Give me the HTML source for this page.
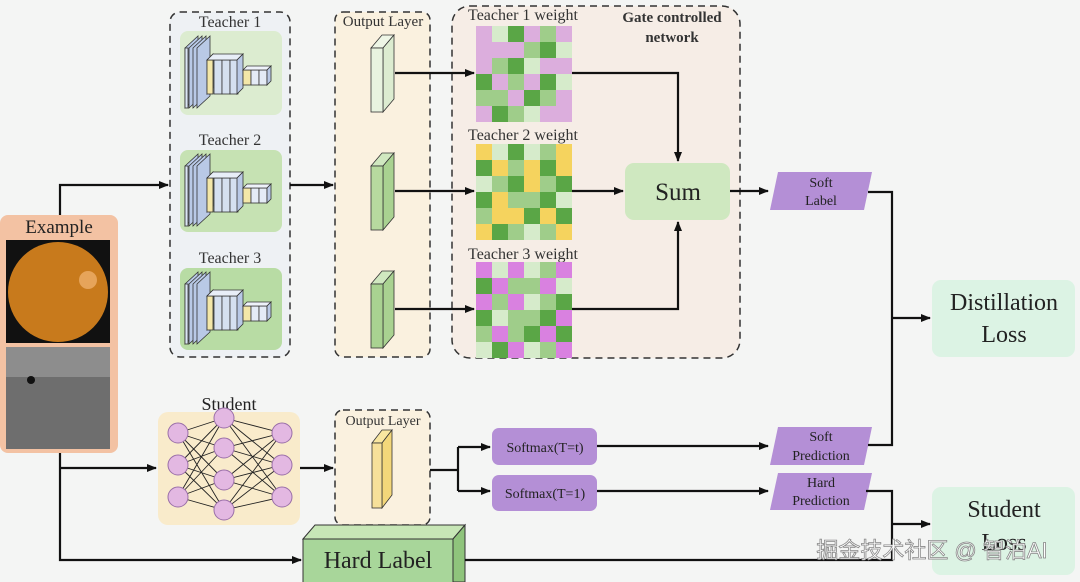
<!DOCTYPE html>
<html><head><meta charset="utf-8"><style>
html,body{margin:0;padding:0;background:#f4f5f4;}
svg{display:block;font-family:"Liberation Serif",serif;}
.P{fill:#dcaedd}.L{fill:#d6ebcb}.G{fill:#5aa646}.M{fill:#9fcd8a}.Y{fill:#f5d35e}.K{fill:#d981e0}
</style></head><body>
<svg width="1080" height="582" viewBox="0 0 1080 582" xmlns="http://www.w3.org/2000/svg">
<defs>
<marker id="a" markerWidth="10" markerHeight="8" refX="9" refY="4" orient="auto" markerUnits="userSpaceOnUse"><path d="M0,0 L10,4 L0,8 z" fill="#111"/></marker>
<g id="cnn">
 <g stroke="#333" stroke-width="0.8">
  <polygon points="5,18 18,6 18,66 5,78" fill="#b9c9e6"/>
  <polygon points="9,18 22,6 22,66 9,78" fill="#b9c9e6"/>
  <polygon points="13,18 26,6 26,66 13,78" fill="#b9c9e6"/>
  <polygon points="17,18 30,6 30,66 17,78" fill="#b9c9e6"/>
  <rect x="5" y="18" width="3" height="60" fill="#dbe6f5"/>
  <polygon points="27,30 33,24 33,58 27,64" fill="#f3e7a8"/>
  <rect x="27" y="30" width="6" height="34" fill="#f3e7a8"/>
  <rect x="34" y="30" width="8" height="34" fill="#d5e0f0"/>
  <rect x="42" y="30" width="8" height="34" fill="#d5e0f0"/>
  <rect x="50" y="30" width="8" height="34" fill="#d5e0f0"/>
  <polygon points="27,30 33,24 63,24 57,30" fill="#e8eef8"/>
  <polygon points="57,30 63,24 63,58 57,64" fill="#b9c9e6"/>
  <rect x="63" y="40" width="8" height="15" fill="#f3e7a8"/>
  <rect x="71" y="40" width="8" height="15" fill="#e4ebf6"/>
  <rect x="79" y="40" width="8" height="15" fill="#e4ebf6"/>
  <polygon points="63,40 67,36 91,36 87,40" fill="#eef2fa"/>
  <polygon points="87,40 91,36 91,51 87,55" fill="#b9c9e6"/>
 </g>
</g>
</defs>

<!-- Example -->
<rect x="0" y="215" width="118" height="238" rx="8" fill="#f3c2a3"/>
<text x="59" y="233" font-size="19" text-anchor="middle" fill="#222">Example</text>
<rect x="6" y="240" width="104" height="103" fill="#111"/>
<circle cx="58" cy="292" r="50" fill="#c87a1c"/>
<circle cx="88" cy="280" r="9" fill="#e6a45a"/>
<rect x="6" y="347" width="104" height="102" fill="#6e6e6e"/>
<rect x="6" y="347" width="104" height="30" fill="#9a9a9a" opacity="0.7"/>
<circle cx="31" cy="380" r="4" fill="#111"/>

<!-- Teachers -->
<rect x="170" y="12" width="120" height="345" rx="10" fill="#eef1f4" stroke="#333" stroke-width="1.5" stroke-dasharray="7,5"/>
<text x="230" y="27" font-size="16" text-anchor="middle" fill="#333">Teacher 1</text>
<rect x="180" y="31" width="102" height="84" rx="8" fill="#dcecd0"/>
<text x="230" y="145" font-size="16" text-anchor="middle" fill="#333">Teacher 2</text>
<rect x="180" y="150" width="102" height="82" rx="8" fill="#c6e2b3"/>
<text x="230" y="263" font-size="16" text-anchor="middle" fill="#333">Teacher 3</text>
<rect x="180" y="268" width="102" height="82" rx="8" fill="#b8dca4"/>
<use href="#cnn" x="180" y="30"/>
<use href="#cnn" x="180" y="148"/>
<use href="#cnn" x="180" y="266"/>

<!-- Output layer teachers -->
<rect x="335" y="12" width="95" height="345" rx="8" fill="#faf1df" stroke="#333" stroke-width="1.5" stroke-dasharray="7,5"/>
<text x="383" y="26" font-size="15" text-anchor="middle" fill="#333">Output Layer</text>
<g stroke="#333" stroke-width="0.8">
<polygon points="371,48 382,35 394,35 383,48" fill="#eef6e6"/><polygon points="383,48 394,35 394,99 383,112" fill="#dcecd0"/><rect x="371" y="48" width="12" height="64" fill="#e8f3df"/>
<polygon points="371,166 382,153 394,153 383,166" fill="#d0e8c0"/><polygon points="383,166 394,153 394,217 383,230" fill="#a9d291"/><rect x="371" y="166" width="12" height="64" fill="#b7da9f"/>
<polygon points="371,284 382,271 394,271 383,284" fill="#d0e8c0"/><polygon points="383,284 394,271 394,335 383,348" fill="#a9d291"/><rect x="371" y="284" width="12" height="64" fill="#a9d291"/>
</g>

<!-- Gate -->
<rect x="452" y="6" width="288" height="352" rx="18" fill="#f6ede6" stroke="#333" stroke-width="1.5" stroke-dasharray="7,5"/>
<text x="523" y="20" font-size="16" text-anchor="middle" fill="#333">Teacher 1 weight</text>
<text x="523" y="140" font-size="16" text-anchor="middle" fill="#333">Teacher 2 weight</text>
<text x="523" y="259" font-size="16" text-anchor="middle" fill="#333">Teacher 3 weight</text>
<text x="672" y="22" font-size="15" font-weight="bold" text-anchor="middle" fill="#333">Gate controlled</text>
<text x="672" y="42" font-size="15" font-weight="bold" text-anchor="middle" fill="#333">network</text>

<g>
<!-- grid1 -->
<rect class="P" x="476" y="26" width="16" height="16"/><rect class="L" x="492" y="26" width="16" height="16"/><rect class="G" x="508" y="26" width="16" height="16"/><rect class="P" x="524" y="26" width="16" height="16"/><rect class="M" x="540" y="26" width="16" height="16"/><rect class="P" x="556" y="26" width="16" height="16"/>
<rect class="P" x="476" y="42" width="16" height="16"/><rect class="P" x="492" y="42" width="16" height="16"/><rect class="P" x="508" y="42" width="16" height="16"/><rect class="M" x="524" y="42" width="16" height="16"/><rect class="G" x="540" y="42" width="16" height="16"/><rect class="L" x="556" y="42" width="16" height="16"/>
<rect class="P" x="476" y="58" width="16" height="16"/><rect class="M" x="492" y="58" width="16" height="16"/><rect class="G" x="508" y="58" width="16" height="16"/><rect class="L" x="524" y="58" width="16" height="16"/><rect class="P" x="540" y="58" width="16" height="16"/><rect class="P" x="556" y="58" width="16" height="16"/>
<rect class="G" x="476" y="74" width="16" height="16"/><rect class="P" x="492" y="74" width="16" height="16"/><rect class="M" x="508" y="74" width="16" height="16"/><rect class="P" x="524" y="74" width="16" height="16"/><rect class="G" x="540" y="74" width="16" height="16"/><rect class="L" x="556" y="74" width="16" height="16"/>
<rect class="M" x="476" y="90" width="16" height="16"/><rect class="M" x="492" y="90" width="16" height="16"/><rect class="P" x="508" y="90" width="16" height="16"/><rect class="G" x="524" y="90" width="16" height="16"/><rect class="M" x="540" y="90" width="16" height="16"/><rect class="P" x="556" y="90" width="16" height="16"/>
<rect class="P" x="476" y="106" width="16" height="16"/><rect class="G" x="492" y="106" width="16" height="16"/><rect class="M" x="508" y="106" width="16" height="16"/><rect class="L" x="524" y="106" width="16" height="16"/><rect class="P" x="540" y="106" width="16" height="16"/><rect class="P" x="556" y="106" width="16" height="16"/>
<!-- grid2 -->
<rect class="Y" x="476" y="144" width="16" height="16"/><rect class="L" x="492" y="144" width="16" height="16"/><rect class="G" x="508" y="144" width="16" height="16"/><rect class="L" x="524" y="144" width="16" height="16"/><rect class="M" x="540" y="144" width="16" height="16"/><rect class="Y" x="556" y="144" width="16" height="16"/>
<rect class="G" x="476" y="160" width="16" height="16"/><rect class="Y" x="492" y="160" width="16" height="16"/><rect class="M" x="508" y="160" width="16" height="16"/><rect class="Y" x="524" y="160" width="16" height="16"/><rect class="G" x="540" y="160" width="16" height="16"/><rect class="Y" x="556" y="160" width="16" height="16"/>
<rect class="L" x="476" y="176" width="16" height="16"/><rect class="M" x="492" y="176" width="16" height="16"/><rect class="G" x="508" y="176" width="16" height="16"/><rect class="Y" x="524" y="176" width="16" height="16"/><rect class="M" x="540" y="176" width="16" height="16"/><rect class="G" x="556" y="176" width="16" height="16"/>
<rect class="G" x="476" y="192" width="16" height="16"/><rect class="Y" x="492" y="192" width="16" height="16"/><rect class="M" x="508" y="192" width="16" height="16"/><rect class="M" x="524" y="192" width="16" height="16"/><rect class="G" x="540" y="192" width="16" height="16"/><rect class="L" x="556" y="192" width="16" height="16"/>
<rect class="M" x="476" y="208" width="16" height="16"/><rect class="Y" x="492" y="208" width="16" height="16"/><rect class="Y" x="508" y="208" width="16" height="16"/><rect class="G" x="524" y="208" width="16" height="16"/><rect class="Y" x="540" y="208" width="16" height="16"/><rect class="G" x="556" y="208" width="16" height="16"/>
<rect class="Y" x="476" y="224" width="16" height="16"/><rect class="G" x="492" y="224" width="16" height="16"/><rect class="M" x="508" y="224" width="16" height="16"/><rect class="L" x="524" y="224" width="16" height="16"/><rect class="M" x="540" y="224" width="16" height="16"/><rect class="Y" x="556" y="224" width="16" height="16"/>
<!-- grid3 -->
<rect class="K" x="476" y="262" width="16" height="16"/><rect class="L" x="492" y="262" width="16" height="16"/><rect class="K" x="508" y="262" width="16" height="16"/><rect class="L" x="524" y="262" width="16" height="16"/><rect class="M" x="540" y="262" width="16" height="16"/><rect class="K" x="556" y="262" width="16" height="16"/>
<rect class="G" x="476" y="278" width="16" height="16"/><rect class="K" x="492" y="278" width="16" height="16"/><rect class="M" x="508" y="278" width="16" height="16"/><rect class="M" x="524" y="278" width="16" height="16"/><rect class="K" x="540" y="278" width="16" height="16"/><rect class="L" x="556" y="278" width="16" height="16"/>
<rect class="K" x="476" y="294" width="16" height="16"/><rect class="M" x="492" y="294" width="16" height="16"/><rect class="K" x="508" y="294" width="16" height="16"/><rect class="L" x="524" y="294" width="16" height="16"/><rect class="M" x="540" y="294" width="16" height="16"/><rect class="G" x="556" y="294" width="16" height="16"/>
<rect class="G" x="476" y="310" width="16" height="16"/><rect class="L" x="492" y="310" width="16" height="16"/><rect class="M" x="508" y="310" width="16" height="16"/><rect class="M" x="524" y="310" width="16" height="16"/><rect class="G" x="540" y="310" width="16" height="16"/><rect class="K" x="556" y="310" width="16" height="16"/>
<rect class="M" x="476" y="326" width="16" height="16"/><rect class="K" x="492" y="326" width="16" height="16"/><rect class="M" x="508" y="326" width="16" height="16"/><rect class="G" x="524" y="326" width="16" height="16"/><rect class="K" x="540" y="326" width="16" height="16"/><rect class="G" x="556" y="326" width="16" height="16"/>
<rect class="L" x="476" y="342" width="16" height="16"/><rect class="G" x="492" y="342" width="16" height="16"/><rect class="K" x="508" y="342" width="16" height="16"/><rect class="L" x="524" y="342" width="16" height="16"/><rect class="M" x="540" y="342" width="16" height="16"/><rect class="K" x="556" y="342" width="16" height="16"/>
</g>

<rect x="625" y="163" width="105" height="57" rx="9" fill="#cfe8c0"/>
<text x="678" y="200" font-size="25" text-anchor="middle" fill="#222">Sum</text>

<polygon points="778,172 872,172 864,210 770,210" fill="#b48fd6"/>
<text x="821" y="187" font-size="14" text-anchor="middle" fill="#222">Soft</text>
<text x="821" y="205" font-size="14" text-anchor="middle" fill="#222">Label</text>

<rect x="932" y="280" width="143" height="77" rx="9" fill="#dcf3e4"/>
<text x="1004" y="310" font-size="24" text-anchor="middle" fill="#222">Distillation</text>
<text x="1004" y="342" font-size="24" text-anchor="middle" fill="#222">Loss</text>
<rect x="932" y="487" width="143" height="88" rx="9" fill="#dcf3e4"/>
<text x="1004" y="517" font-size="24" text-anchor="middle" fill="#222">Student</text>
<text x="1004" y="550" font-size="24" text-anchor="middle" fill="#222">Loss</text>

<!-- Student -->
<text x="229" y="410" font-size="18" text-anchor="middle" fill="#222">Student</text>
<rect x="158" y="412" width="142" height="113" rx="10" fill="#f9ebcb"/>
<g stroke="#222" stroke-width="0.9">
<path d="M178,433 L224,418 M178,433 L224,448 M178,433 L224,480 M178,433 L224,510 M178,465 L224,418 M178,465 L224,448 M178,465 L224,480 M178,465 L224,510 M178,497 L224,418 M178,497 L224,448 M178,497 L224,480 M178,497 L224,510 M282,433 L224,418 M282,433 L224,448 M282,433 L224,480 M282,433 L224,510 M282,465 L224,418 M282,465 L224,448 M282,465 L224,480 M282,465 L224,510 M282,497 L224,418 M282,497 L224,448 M282,497 L224,480 M282,497 L224,510"/>
</g>
<g fill="#e3b8e2" stroke="#9a6fa8" stroke-width="1">
<circle cx="178" cy="433" r="10"/><circle cx="178" cy="465" r="10"/><circle cx="178" cy="497" r="10"/>
<circle cx="224" cy="418" r="10"/><circle cx="224" cy="448" r="10"/><circle cx="224" cy="480" r="10"/><circle cx="224" cy="510" r="10"/>
<circle cx="282" cy="433" r="10"/><circle cx="282" cy="465" r="10"/><circle cx="282" cy="497" r="10"/>
</g>
<rect x="335" y="410" width="95" height="115" rx="8" fill="#faf1df" stroke="#333" stroke-width="1.5" stroke-dasharray="7,5"/>
<text x="383" y="425" font-size="14" text-anchor="middle" fill="#333">Output Layer</text>
<g stroke="#333" stroke-width="0.8">
<polygon points="372,443 382,430 392,430 382,443" fill="#f8e6a0"/><polygon points="382,443 392,430 392,495 382,508" fill="#f3d77a"/><rect x="372" y="443" width="10" height="65" fill="#f6e09a"/>
</g>

<rect x="492" y="428" width="105" height="37" rx="7" fill="#b48fd6"/>
<text x="545" y="452" font-size="14" text-anchor="middle" fill="#222">Softmax(T=t)</text>
<rect x="492" y="475" width="105" height="36" rx="7" fill="#b48fd6"/>
<text x="545" y="498" font-size="14" text-anchor="middle" fill="#222">Softmax(T=1)</text>
<polygon points="778,427 872,427 864,465 770,465" fill="#b48fd6"/>
<text x="821" y="441" font-size="14" text-anchor="middle" fill="#222">Soft</text>
<text x="821" y="460" font-size="14" text-anchor="middle" fill="#222">Prediction</text>
<polygon points="778,473 872,473 864,510 770,510" fill="#b48fd6"/>
<text x="821" y="487" font-size="14" text-anchor="middle" fill="#222">Hard</text>
<text x="821" y="505" font-size="14" text-anchor="middle" fill="#222">Prediction</text>

<!-- Hard label box -->
<polygon points="303,539 315,525 465,525 453,539" fill="#c7e6b6" stroke="#333" stroke-width="1"/>
<polygon points="453,539 465,525 465,582 453,582" fill="#8fc47c" stroke="#333" stroke-width="1"/>
<rect x="303" y="539" width="150" height="45" fill="#a8d69a" stroke="#333" stroke-width="1"/>
<text x="378" y="568" font-size="24" text-anchor="middle" fill="#222">Hard Label</text>

<!-- connectors -->
<g fill="none" stroke="#111" stroke-width="2.2">
<path d="M60,215 V185 H168" marker-end="url(#a)"/>
<path d="M290,185 H333" marker-end="url(#a)"/>
<path d="M395,73 H474" marker-end="url(#a)"/>
<path d="M395,191 H474" marker-end="url(#a)"/>
<path d="M395,309 H474" marker-end="url(#a)"/>
<path d="M572,73 H678 V161" marker-end="url(#a)"/>
<path d="M572,191 H623" marker-end="url(#a)"/>
<path d="M572,309 H678 V222" marker-end="url(#a)"/>
<path d="M730,191 H768" marker-end="url(#a)"/>
<path d="M868,192 H892 V445 H868"/>
<path d="M892,318 H930" marker-end="url(#a)"/>
<path d="M60,453 V560 H301" marker-end="url(#a)"/>
<path d="M60,468 H156" marker-end="url(#a)"/>
<path d="M300,468 H333" marker-end="url(#a)"/>
<path d="M430,470 H458"/>
<path d="M458,447 V491"/>
<path d="M458,447 H490" marker-end="url(#a)"/>
<path d="M458,491 H490" marker-end="url(#a)"/>
<path d="M597,446 H768" marker-end="url(#a)"/>
<path d="M597,491 H768" marker-end="url(#a)"/>
<path d="M866,491 H892 V560 H465"/>
<path d="M892,524 H930" marker-end="url(#a)"/>
</g>

<text x="932" y="558" font-size="22" text-anchor="middle" fill="#fff" stroke="#888" stroke-width="0.8" font-family="'Liberation Sans','Noto Sans CJK SC',sans-serif">掘金技术社区 @ 智泊AI</text>
</svg>
</body></html>
